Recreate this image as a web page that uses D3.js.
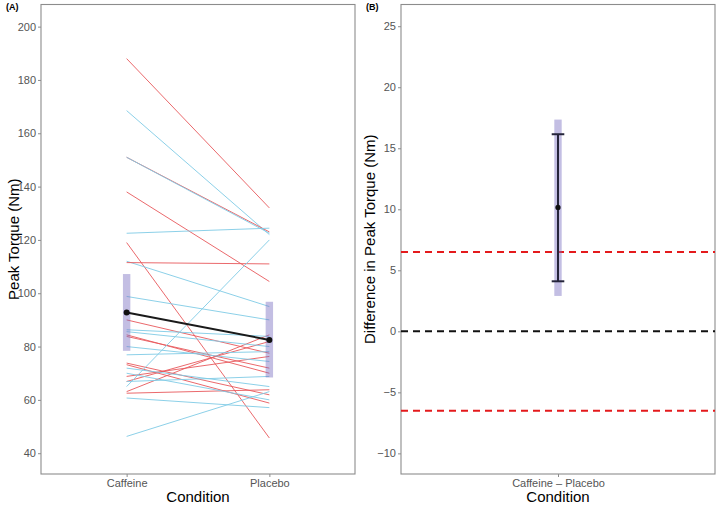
<!DOCTYPE html>
<html>
<head>
<meta charset="utf-8">
<script src="https://cdn.jsdelivr.net/npm/d3@7"></script>
<style>
  body { margin: 0; background: #fff; }
  svg { display: block; font-family: "Liberation Sans", Arial, sans-serif; }
</style>
</head>
<body>
<svg width="720" height="509"></svg>
<script>
// data
const conditions = ["Caffeine", "Placebo"];
const caffeine = [188, 168.5, 151, 151, 138, 122.5, 119, 112, 111.5, 98.8,
                  90, 84.4, 83.8, 73.8, 73.2, 68.8, 66.9, 63.1, 62.5,
                  86.3, 85.6, 80, 76.9, 71.9, 70, 66.9, 60.7, 65, 46.3];
const placebo  = [132, 122, 123, 122.5, 104.4, 124.4, 45.7, 95, 111, 90,
                  77.5, 70, 71.9, 61.9, 58.8, 76.3, 81.9, 84.4, 63.8,
                  83.8, 80, 74.4, 78.1, 65, 60, 68.8, 57.1, 120, 63.1];
const group    = ["R", "B", "R", "B", "R", "B", "R", "B", "R", "B",
                  "R", "R", "R", "R", "R", "R", "R", "R", "R",
                  "B", "B", "B", "B", "B", "B", "B", "B", "B", "B"];
const condMean = [92.8, 82.5];
const condLow  = [78.4, 68.4];
const condHigh = [107.2, 96.8];
const yTicksA  = [40, 60, 80, 100, 120, 140, 160, 180, 200];

const diffLabel = ["Caffeine \u2013 Placebo"];
const diffMean  = [10.15];
const diffCI    = [4.1, 16.15];
const diffBand  = [2.9, 17.35];
const bounds    = [-6.5, 6.5];
const yTicksB   = [-10, -5, 0, 5, 10, 15, 20, 25];

const colors = {R: "#e8595c", B: "#7fcbe6"};

const svg = d3.select("svg");

// panel A
const pA = {left: 41, right: 355, top: 4.5, bottom: 474, titleX: 14};
const xA = d3.scalePoint().domain(conditions).range([pA.left, pA.right]).padding(0.6);
const yA = d3.scaleLinear().domain([32.2, 208.3]).range([pA.bottom, pA.top]);

// panel B
const pB = {left: 401, right: 715, top: 4.5, bottom: 474, titleX: 370};
const xB = d3.scalePoint().domain(diffLabel).range([pB.left, pB.right]).padding(0.6);
const yB = d3.scaleLinear().domain([-11.69, 26.78]).range([pB.bottom, pB.top]);

function frame(p, x, y, ticks, tag, ytitle) {
  const g = svg.append("g");
  g.append("rect")
    .attr("x", p.left).attr("y", p.top)
    .attr("width", p.right - p.left).attr("height", p.bottom - p.top)
    .attr("fill", "none").attr("stroke", "#8c8c8c").attr("stroke-width", 1.1);

  const ax = g.append("g")
    .attr("transform", `translate(${p.left},0)`)
    .call(d3.axisLeft(y).tickValues(ticks).tickSize(3).tickPadding(2));
  ax.select(".domain").remove();
  ax.selectAll("line").attr("stroke", "#8c8c8c");
  ax.selectAll("text").attr("fill", "#555").attr("font-size", "11px");

  const bx = g.append("g")
    .attr("transform", `translate(0,${p.bottom})`)
    .call(d3.axisBottom(x).tickSize(3).tickPadding(2));
  bx.select(".domain").remove();
  bx.selectAll("line").attr("stroke", "#8c8c8c");
  bx.selectAll("text").attr("fill", "#555").attr("font-size", "11px");

  g.append("text")
    .attr("x", (p.left + p.right) / 2).attr("y", 502)
    .attr("text-anchor", "middle").attr("font-size", "15px")
    .text("Condition");

  g.append("text")
    .attr("transform", `translate(${p.titleX + 5},${(p.top + p.bottom) / 2}) rotate(-90)`)
    .attr("text-anchor", "middle").attr("font-size", "15px")
    .text(ytitle);

  g.append("text")
    .attr("x", p.left - 35).attr("y", 10)
    .attr("font-size", "9px").attr("font-weight", "bold")
    .text(tag);
}

frame(pA, xA, yA, yTicksA, "(A)", "Peak Torque (Nm)");
frame(pB, xB, yB, yTicksB, "(B)", "Difference in Peak Torque (Nm)");

// individual subjects
svg.append("g").selectAll("line")
  .data(caffeine)
  .join("line")
    .attr("x1", xA("Caffeine"))
    .attr("x2", xA("Placebo"))
    .attr("y1", d => yA(d))
    .attr("y2", (d, i) => yA(placebo[i]))
    .attr("stroke", (d, i) => colors[group[i]])
    .attr("stroke-opacity", 0.9)
    .attr("stroke-width", 1);

// interval bands per condition
svg.append("g").selectAll("rect")
  .data(conditions)
  .join("rect")
    .attr("x", d => xA(d) - 3.7)
    .attr("width", 7.4)
    .attr("y", (d, i) => yA(condHigh[i]))
    .attr("height", (d, i) => yA(condLow[i]) - yA(condHigh[i]))
    .attr("fill", "#7b6fc0")
    .attr("fill-opacity", 0.45);

// mean line
svg.append("path")
  .datum(conditions)
  .attr("d", d3.line().x(d => xA(d)).y((d, i) => yA(condMean[i])))
  .attr("fill", "none")
  .attr("stroke", "#1a1a1a")
  .attr("stroke-width", 2);

svg.append("g").selectAll("circle")
  .data(conditions)
  .join("circle")
    .attr("cx", d => xA(d))
    .attr("cy", (d, i) => yA(condMean[i]))
    .attr("r", 3)
    .attr("fill", "#111");

// panel B reference lines
svg.append("g").selectAll("line")
  .data(bounds)
  .join("line")
    .attr("x1", pB.left).attr("x2", pB.right)
    .attr("y1", d => yB(d)).attr("y2", d => yB(d))
    .attr("stroke", "#e41a1c").attr("stroke-width", 2)
    .attr("stroke-dasharray", "7,5");

svg.append("line")
  .attr("x1", pB.left).attr("x2", pB.right)
  .attr("y1", yB(0)).attr("y2", yB(0))
  .attr("stroke", "#111").attr("stroke-width", 2)
  .attr("stroke-dasharray", "7,5");

const cx = xB(diffLabel[0]);

svg.append("rect")
  .attr("x", cx - 3.7).attr("width", 7.4)
  .attr("y", yB(diffBand[1]))
  .attr("height", yB(diffBand[0]) - yB(diffBand[1]))
  .attr("fill", "#7b6fc0").attr("fill-opacity", 0.45);

const eb = svg.append("g").attr("stroke", "#25253a").attr("stroke-width", 2);
eb.append("line")
  .attr("x1", cx).attr("x2", cx)
  .attr("y1", yB(diffCI[0])).attr("y2", yB(diffCI[1]));
eb.selectAll(".cap")
  .data(diffCI)
  .join("line")
    .attr("class", "cap")
    .attr("x1", cx - 6.3).attr("x2", cx + 6.3)
    .attr("y1", d => yB(d)).attr("y2", d => yB(d));

svg.append("circle")
  .attr("cx", cx).attr("cy", yB(diffMean[0]))
  .attr("r", 2.6).attr("fill", "#111");
</script>
</body>
</html>
